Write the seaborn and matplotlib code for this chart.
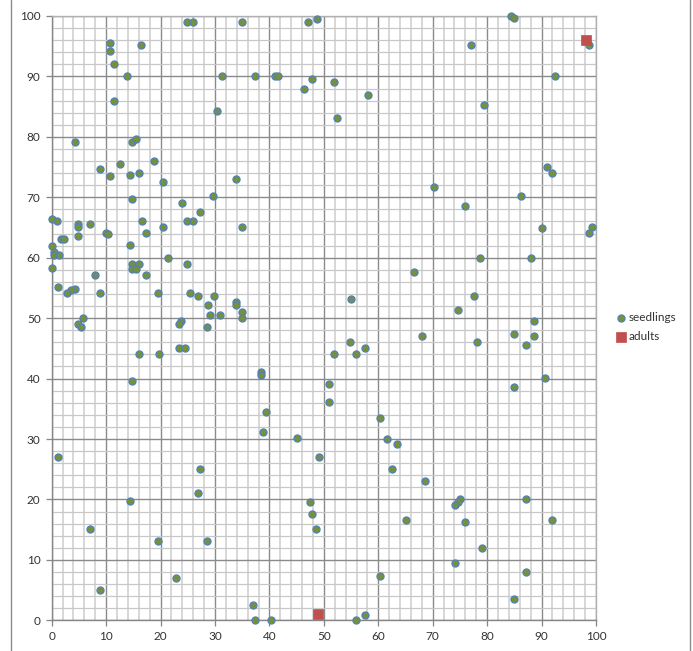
import matplotlib
matplotlib.use("Agg")
import matplotlib.pyplot as plt
from matplotlib.lines import Line2D
from matplotlib.ticker import MultipleLocator
import seaborn as sns
import pandas as pd

# Seedling positions (x, y in metres)
seedling_x = [
    24.9, 25.9, 34.9, 47.0, 48.7, 84.4, 85.0,
    10.8, 10.8, 16.4, 11.5, 13.8, 11.5,
    31.3, 37.4, 41.0, 41.5, 47.9, 46.4, 30.4,
    4.3, 14.8, 15.5, 18.8, 12.5, 8.9, 10.8, 14.3, 16.0, 20.5, 33.9, 14.8, 24.0, 29.7, 27.3,
    77.0, 98.8, 92.4, 51.9, 58.1, 52.4, 79.5, 91.0, 92.0, 70.2, 76.0, 86.2,
    0.0, 0.9, 4.8, 4.8, 7.0, 16.5, 24.9, 25.9, 20.5, 34.9, 9.9, 10.3, 17.4, 4.8, 1.8, 2.3,
    0.0, 14.3, 0.4, 0.4, 1.3, 21.4, 14.8, 16.0, 24.9, 0.0, 14.8, 15.5, 8.0, 17.4, 1.2,
    4.3, 3.5, 2.9, 8.9, 19.5, 25.4, 26.9, 29.8, 28.8, 33.9, 33.9, 34.9, 29.0, 30.9, 34.9,
    5.8, 4.8, 5.3, 23.7, 23.3, 28.5, 23.3, 24.5, 16.0, 19.7, 14.8, 38.4, 38.4, 39.4,
    90.0, 99.3, 98.7, 78.7, 88.1, 66.6, 54.9, 77.6, 74.6, 88.6, 68.0, 85.0, 88.6, 87.1,
    78.1, 54.8, 51.9, 55.9, 57.6, 90.7, 85.0, 50.9, 50.9, 60.4,
    38.9, 45.1, 1.2, 49.1, 27.3, 26.8, 14.3, 47.4, 47.8, 48.6, 7.0, 19.5, 28.5, 22.8,
    8.9, 37.0, 37.4, 40.2,
    61.6, 63.4, 62.5, 68.5, 75.0, 74.6, 74.1, 87.2, 65.1, 76.0, 92.0, 79.1, 74.1, 60.4,
    87.2, 85.0, 57.6, 55.9,
]
seedling_y = [
    99.0, 99.0, 99.0, 99.0, 99.5, 100.0, 99.7,
    95.6, 94.2, 95.2, 92.1, 90.1, 86.0,
    90.1, 90.1, 90.1, 90.1, 89.5, 88.0, 84.2,
    79.1, 79.1, 79.6, 76.0, 75.5, 74.7, 73.5, 73.7, 74.0, 72.5, 73.0, 69.7, 69.1, 70.2, 67.6,
    95.2, 95.2, 90.1, 89.0, 87.0, 83.2, 85.2, 75.0, 74.0, 71.7, 68.6, 70.2,
    66.4, 66.1, 65.6, 65.1, 65.6, 66.1, 66.1, 66.1, 65.1, 65.1, 64.1, 63.9, 64.1, 63.6, 63.1, 63.1,
    62.0, 62.1, 61.0, 60.5, 60.5, 60.0, 59.0, 59.0, 59.0, 58.3, 58.1, 58.1, 57.2, 57.2, 55.2,
    54.9, 54.7, 54.2, 54.2, 54.2, 54.2, 53.6, 53.6, 52.1, 52.7, 52.2, 51.1, 50.6, 50.6, 50.0,
    50.0, 49.0, 48.5, 49.6, 49.0, 48.5, 45.0, 45.0, 44.1, 44.1, 39.6, 41.1, 40.6, 34.5,
    64.9, 65.1, 64.1, 60.0, 60.0, 57.6, 53.1, 53.6, 51.3, 49.5, 47.0, 47.4, 47.0, 45.5,
    46.0, 46.0, 44.1, 44.1, 45.0, 40.1, 38.6, 39.1, 36.1, 33.5,
    31.2, 30.2, 27.1, 27.1, 25.1, 21.0, 19.8, 19.5, 17.6, 15.1, 15.1, 13.1, 13.1, 7.0,
    5.0, 2.6, 0.1, 0.1,
    30.0, 29.1, 25.1, 23.1, 20.0, 19.5, 19.0, 20.0, 16.6, 16.2, 16.6, 12.0, 9.5, 7.4,
    8.0, 3.6, 0.9, 0.1,
]

# Adult tree positions
adult_x = [98.1, 49.0]
adult_y = [96.1, 1.0]

seedlings = pd.DataFrame({"x": seedling_x, "y": seedling_y})
adults = pd.DataFrame({"x": adult_x, "y": adult_y})

sns.set_style("white")
plt.rcParams["font.family"] = ["Lato", "DejaVu Sans"]

fig = plt.figure(figsize=(6.93, 6.51), dpi=100)
ax = fig.add_axes([51.7 / 693, 30.7 / 651, (596 - 51.7) / 693, (620.3 - 16) / 651])

# Grid: minor every 2, major every 10
ax.xaxis.set_major_locator(MultipleLocator(10))
ax.yaxis.set_major_locator(MultipleLocator(10))
ax.xaxis.set_minor_locator(MultipleLocator(2))
ax.yaxis.set_minor_locator(MultipleLocator(2))
ax.grid(which="minor", axis="x", color="#d4d4d4", linewidth=1.3)
ax.grid(which="minor", axis="y", color="#c8c8c8", linewidth=0.9)
ax.grid(which="major", color="#8a8a8a", linewidth=1.0)
ax.set_axisbelow(True)

sns.scatterplot(data=seedlings, x="x", y="y", ax=ax, marker="o", s=26,
                color="#77913a", edgecolor="#4f81bd", linewidth=0.9,
                label="seedlings", zorder=3, clip_on=False)
sns.scatterplot(data=adults, x="x", y="y", ax=ax, marker="s", s=62,
                color="#c0504d", edgecolor="#c0504d", linewidth=0.5,
                label="adults", zorder=4, clip_on=False)

ax.set_xlim(0, 100)
ax.set_ylim(0, 100)
ax.set_xlabel("")
ax.set_ylabel("")

for side in ["top", "right"]:
    ax.spines[side].set_color("#b0b0b0")
    ax.spines[side].set_linewidth(1.0)
for side in ["left", "bottom"]:
    ax.spines[side].set_color("#868686")
    ax.spines[side].set_linewidth(1.0)

ax.tick_params(which="major", direction="out", length=4, width=0.9,
               color="#868686", labelsize=8.5, labelcolor="#333333", pad=4)
ax.tick_params(which="minor", length=0)
ax.tick_params(axis="x", bottom=True)
ax.tick_params(axis="y", left=True)

leg = ax.legend(loc="center left", bbox_to_anchor=(1.03, 0.485), frameon=False,
                fontsize=8.5, handlelength=0.7, handletextpad=0.25,
                labelspacing=0.65, borderaxespad=0)
for t in leg.get_texts():
    t.set_color("#333333")

# Chart frame edges
fig.add_artist(Line2D([10.5 / 693, 10.5 / 693], [0, 1], color="#8c8c8c", linewidth=1.0))
fig.add_artist(Line2D([689.5 / 693, 689.5 / 693], [0, 1], color="#8c8c8c", linewidth=1.0))

fig.savefig("out.png", dpi=100)
